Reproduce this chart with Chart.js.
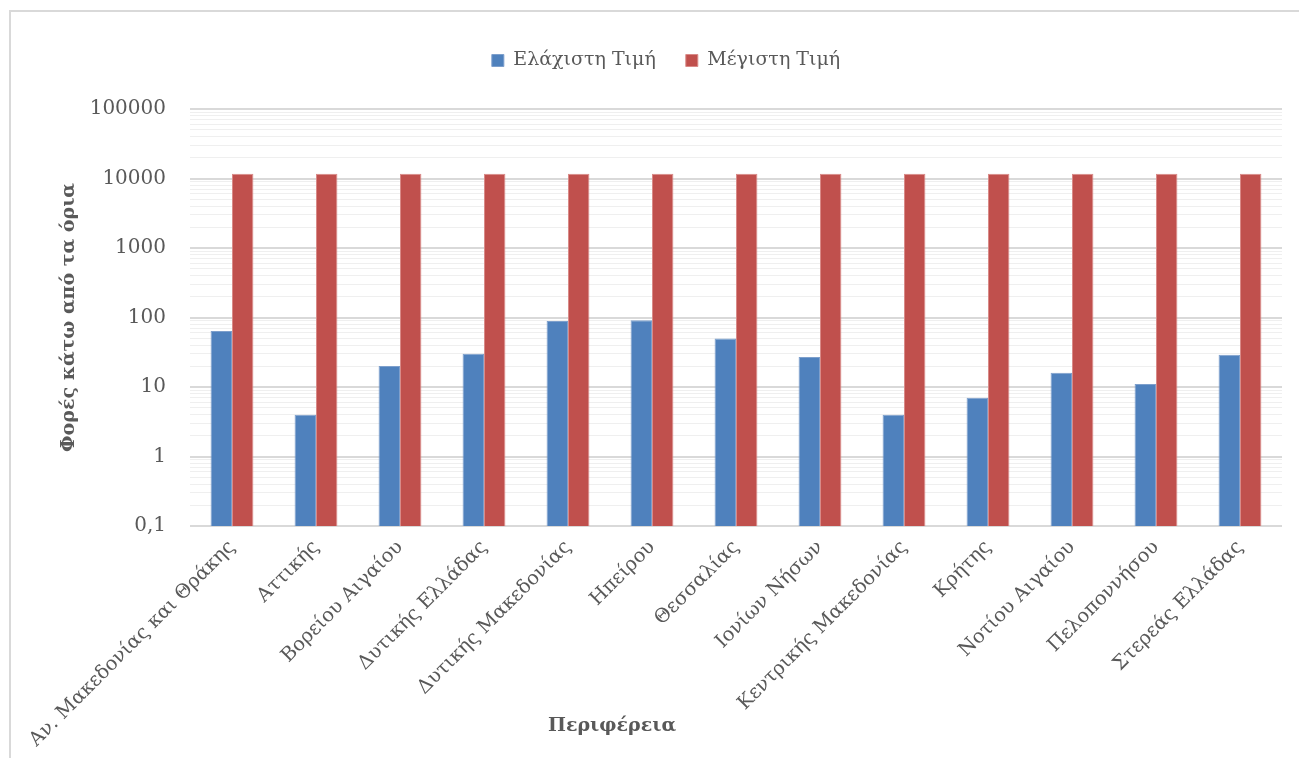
<!DOCTYPE html>
<html>
<head>
<meta charset="utf-8">
<script src="https://cdn.jsdelivr.net/npm/chart.js@4.4.0/dist/chart.umd.min.js"></script>
<style>
  html, body { margin: 0; padding: 0; background: #ffffff; overflow: hidden; }
  #wrap { position: relative; width: 1299px; height: 758px; }
  #frame { position: absolute; left: 9px; top: 10px; width: 1400px; height: 800px; border: 2px solid #d9d9d9; box-sizing: border-box; }
  canvas { position: absolute; left: 0; top: 0; }
  #xtitle { position: absolute; left: 612px; top: 724px; transform: translate(-50%, -50%); font-family: "DejaVu Serif", serif; font-weight: bold; font-size: 19px; color: #595959; white-space: nowrap; }
</style>
</head>
<body>
<div id="wrap">
  <div id="frame"></div>
  <canvas id="c" width="1299" height="758"></canvas>
  <div id="xtitle">Περιφέρεια</div>
</div>
<script>
const categories = [
  "Αν. Μακεδονίας και Θράκης", "Αττικής", "Βορείου Αιγαίου", "Δυτικής Ελλάδας",
  "Δυτικής Μακεδονίας", "Ηπείρου", "Θεσσαλίας", "Ιονίων Νήσων",
  "Κεντρικής Μακεδονίας", "Κρήτης", "Νοτίου Αιγαίου", "Πελοποννήσου", "Στερεάς Ελλάδας"
];
const minValues = [64, 4, 20, 30, 89, 91, 50, 27, 4, 7, 16, 11, 29];
const maxValues = [11700, 11700, 11700, 11700, 11700, 11700, 11700, 11700, 11700, 11700, 11700, 11700, 11700];
const seriesNames = ["Ελάχιστη Τιμή", "Μέγιστη Τιμή"];
const yTickValues = [0.1, 1, 10, 100, 1000, 10000, 100000];
const yTickLabels = ["0,1", "1", "10", "100", "1000", "10000", "100000"];
const yTitle = "Φορές κάτω από τα όρια";

const FONT = '"DejaVu Serif", serif';
const TXT = '#595959';

function isMajor(v) {
  return yTickValues.some(t => Math.abs(v - t) / t < 1e-9);
}

const legendGap = {
  id: 'legendGap',
  beforeInit(chart) {
    const orig = chart.legend.fit;
    chart.legend.fit = function () {
      orig.call(this);
      this.height += 29;
    };
  }
};

new Chart(document.getElementById('c'), {
  type: 'bar',
  data: {
    labels: categories,
    datasets: [
      { label: seriesNames[0], data: minValues, backgroundColor: '#4f81bd', borderColor: '#7d9fcc', borderWidth: 1 },
      { label: seriesNames[1], data: maxValues, backgroundColor: '#c0504d', borderColor: '#d98a88', borderWidth: 1 }
    ]
  },
  plugins: [legendGap],
  options: {
    responsive: false,
    animation: false,
    layout: { padding: { left: 50, right: 17, top: 21, bottom: 0 } },
    datasets: { bar: { categoryPercentage: 0.51, barPercentage: 1.0 } },
    plugins: {
      legend: {
        position: 'top',
        labels: {
          font: { family: FONT, size: 19 },
          color: TXT,
          boxWidth: 12,
          boxHeight: 12,
          padding: 30,
          useBorderRadius: false
        }
      },
      tooltip: { enabled: false }
    },
    scales: {
      x: {
        type: 'category',
        grid: { display: false, drawTicks: false },
        border: { display: false },
        ticks: {
          font: { family: FONT, size: 19.5 },
          color: TXT,
          minRotation: 45,
          maxRotation: 45,
          autoSkip: false,
          padding: 10
        },
        afterFit: s => { s.height = 232; }
      },
      y: {
        type: 'logarithmic',
        min: 0.1,
        max: 100000,
        afterBuildTicks: s => {
          const ticks = [];
          for (let i = 0; i < yTickValues.length - 1; i++) {
            const base = yTickValues[i];
            for (let m = 1; m <= 9; m++) ticks.push({ value: +(base * m).toPrecision(6) });
          }
          ticks.push({ value: yTickValues[yTickValues.length - 1] });
          s.ticks = ticks;
        },
        grid: {
          drawTicks: false,
          color: ctx => isMajor(ctx.tick.value) ? '#d9d9d9' : '#efefef',
          lineWidth: ctx => isMajor(ctx.tick.value) ? 2 : 1
        },
        border: { display: false },
        ticks: {
          autoSkip: false,
          font: { family: FONT, size: 20 },
          color: TXT,
          padding: 24,
          callback: (v) => {
            const idx = yTickValues.findIndex(t => Math.abs(v - t) / t < 1e-9);
            return idx >= 0 ? yTickLabels[idx] : '';
          }
        },
        title: {
          display: true,
          text: yTitle,
          font: { family: FONT, size: 19, weight: 'bold' },
          color: TXT,
          padding: { top: 8, bottom: 0 }
        },
        afterFit: s => { s.width = 140; }
      }
    }
  }
});
</script>
</body>
</html>
